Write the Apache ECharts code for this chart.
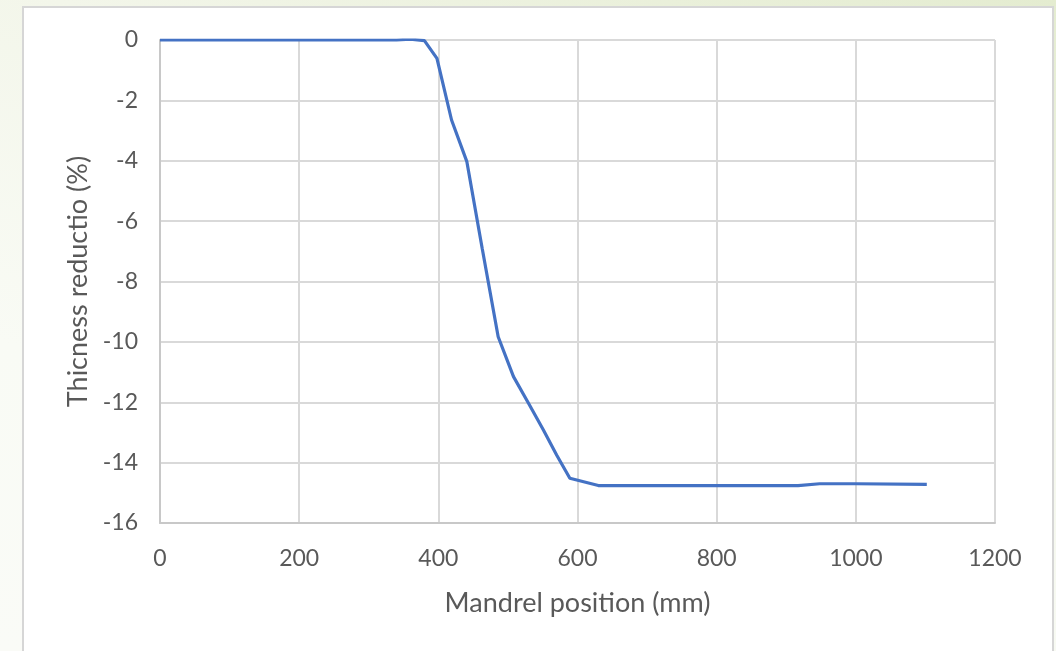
<!DOCTYPE html>
<html>
<head>
<meta charset="utf-8">
<script src="https://cdn.jsdelivr.net/npm/echarts@6/dist/echarts.min.js"></script>
<style>
html,body{margin:0;padding:0;}
body{width:1056px;height:651px;background:linear-gradient(200deg,#e4ecd0 0%,#f3f6ea 35%,#f9fbf5 70%,#fafbf7 100%);overflow:hidden;}
#chart{width:1056px;height:651px;}
</style>
</head>
<body>
<div id="chart"></div>
<script>
const positions = [0, 100, 200, 300, 340, 360, 380, 398, 419, 441, 463, 486, 508, 530, 551, 570, 589, 630, 700, 800, 917, 948, 1000, 1102];
const thickness = [0, 0, 0, 0, 0, 0.03, -0.02, -0.61, -2.65, -4.03, -6.9, -9.83, -11.15, -12.05, -12.92, -13.75, -14.52, -14.76, -14.76, -14.76, -14.76, -14.7, -14.7, -14.72];
const xTitle = 'Mandrel position (mm)';
const yTitle = 'Thicness reductio (%)';

const chart = echarts.init(document.getElementById('chart'));
const gridColor = '#d9d9d9';
const labelColor = '#595959';
const font = 'Lato, "Noto Sans", sans-serif';
chart.setOption({
  animation: false,
  backgroundColor: 'transparent',
  graphic: [{
    type: 'rect', z: -10, silent: true,
    shape: {x: 23, y: 7, width: 1030, height: 660},
    style: {fill: '#ffffff', stroke: '#d6d6d6', lineWidth: 2}
  }],
  grid: {left: 160, right: 61, top: 40, bottom: 128},
  xAxis: {
    type: 'value', min: 0, max: 1200, interval: 200,
    name: xTitle, nameLocation: 'middle', nameGap: 67,
    nameTextStyle: {color: labelColor, fontSize: 27, fontFamily: font},
    axisLine: {show: true, onZero: false, lineStyle: {color: '#c8c8c8', width: 2}},
    axisTick: {show: false},
    axisLabel: {color: labelColor, fontSize: 23, fontFamily: font, margin: 24, formatter: v => String(v)},
    splitLine: {show: true, lineStyle: {color: gridColor, width: 2}}
  },
  yAxis: {
    type: 'value', min: -16, max: 0, interval: 2,
    name: yTitle, nameLocation: 'middle', nameGap: 66, nameRotate: 90,
    nameTextStyle: {color: labelColor, fontSize: 27, fontFamily: font},
    axisLine: {show: true, onZero: false, lineStyle: {color: '#c8c8c8', width: 2}},
    axisTick: {show: false},
    axisLabel: {color: labelColor, fontSize: 23, fontFamily: font, margin: 22, formatter: v => String(v)},
    splitLine: {show: true, lineStyle: {color: gridColor, width: 2}}
  },
  series: [{
    type: 'line',
    data: positions.map((p, i) => [p, thickness[i]]),
    showSymbol: false,
    lineStyle: {color: '#4472c4', width: 3.2},
    z: 5
  }]
});
</script>
</body>
</html>
